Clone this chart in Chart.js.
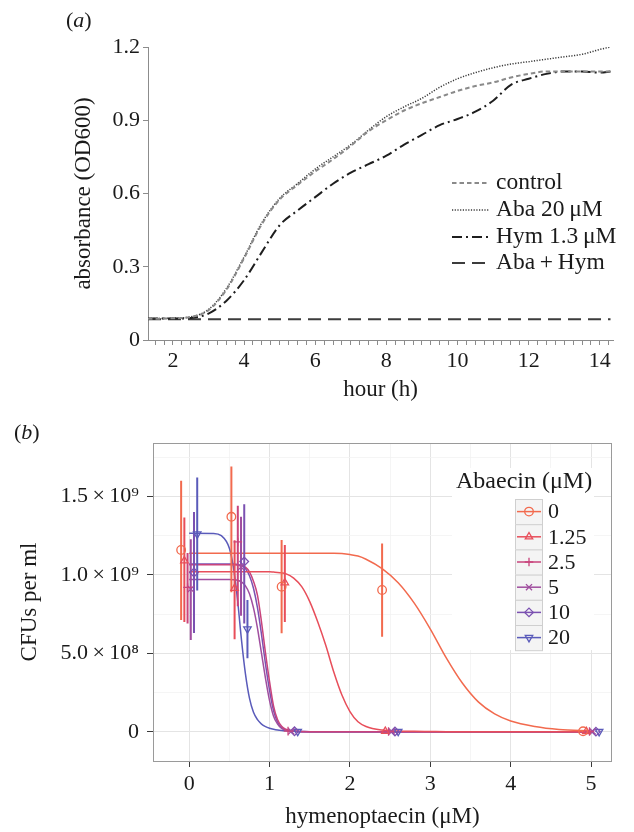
<!DOCTYPE html>
<html><head><meta charset="utf-8">
<script src="https://cdn.jsdelivr.net/npm/chart.js@4.4.0/dist/chart.umd.min.js"></script>
<style>
html,body{margin:0;padding:0;background:#fff;}
#wrap{position:relative;width:634px;height:832px;font-family:"Liberation Serif","Times New Roman",serif;color:#1a1a1a;}
.lab{position:absolute;font-size:22px;line-height:26px;}
.box{position:absolute;left:0;width:634px;}
</style></head><body>
<div id="wrap">
<div class="box" style="top:0;height:410px"><canvas id="ca"></canvas></div>
<div class="box" style="top:410px;height:422px"><canvas id="cb"></canvas></div>
<div class="lab" style="left:66px;top:7px">(<i>a</i>)</div>
<div class="lab" style="left:14px;top:419px">(<i>b</i>)</div>
</div>
<script>
// ---------- panel (a) data ----------
const hours = [1.3,1.5,2,2.5,3,3.5,4,4.5,5,5.5,6,6.5,7,7.5,8,8.5,9,9.5,10,10.5,11,11.5,12,12.5,13,13.5,14,14.3];
const odControl = [0.087,0.087,0.089,0.094,0.122,0.205,0.335,0.475,0.575,0.635,0.69,0.74,0.795,0.855,0.90,0.94,0.97,0.995,1.02,1.04,1.055,1.075,1.09,1.10,1.10,1.10,1.10,1.10];
const odAba = [0.088,0.088,0.09,0.095,0.125,0.21,0.34,0.48,0.58,0.64,0.70,0.75,0.80,0.86,0.915,0.955,0.99,1.035,1.07,1.095,1.115,1.13,1.14,1.15,1.16,1.17,1.19,1.20];
const odHym = [0.088,0.088,0.088,0.09,0.108,0.16,0.245,0.36,0.47,0.53,0.585,0.64,0.685,0.72,0.755,0.80,0.84,0.88,0.905,0.935,0.98,1.045,1.07,1.09,1.10,1.10,1.095,1.10];
const odAbaHym = [0.085,0.085,0.085,0.085,0.085,0.085,0.085,0.085,0.085,0.085,0.085,0.085,0.085,0.085,0.085,0.085,0.085,0.085,0.085,0.085,0.085,0.085,0.085,0.085,0.085,0.085,0.085,0.085];
const growthLabels = ['control','Aba 20\u2009\u03bcM','Hym 1.3\u2009\u03bcM','Aba\u2009+\u2009Hym'];
const hourTicks = [2,4,6,8,10,12,14];
const odTicks = [0,0.3,0.6,0.9,1.2];
const odTickLabels = ['0','0.3','0.6','0.9','1.2'];

// ---------- panel (b) data ----------
const abaecinLevels = ['0','1.25','2.5','5','10','20'];
const hymConc = [0,0.625,1.25,2.5,5];
const cfuMean = [
  [1.159e9,1.37e9,0.925e9,0.904e9,0.004e9],
  [1.09e9,0.915e9,0.95e9,0.004e9,0.003e9],
  [0.92e9,1.21e9,0.005e9,0.003e9,0.003e9],
  [0.91e9,1.05e9,0.004e9,0.003e9,0.003e9],
  [1.015e9,1.085e9,0.004e9,0.003e9,0.002e9],
  [1.26e9,0.656e9,0.003e9,0.003e9,0.002e9]
];
const cfuLow = [
  [0.713e9,0.89e9,0.629e9,0.607e9,0.0e9],
  [0.70e9,0.59e9,0.70e9,0.0e9,0.0e9],
  [0.69e9,0.80e9,0.0e9,0.0e9,0.0e9],
  [0.586e9,0.74e9,0.0e9,0.0e9,0.0e9],
  [0.63e9,0.69e9,0.0e9,0.0e9,0.0e9],
  [0.90e9,0.47e9,0.0e9,0.0e9,0.0e9]
];
const cfuHigh = [
  [1.60e9,1.69e9,1.223e9,1.20e9,0.008e9],
  [1.365e9,1.22e9,1.19e9,0.008e9,0.006e9],
  [1.14e9,1.44e9,0.01e9,0.006e9,0.006e9],
  [1.227e9,1.37e9,0.008e9,0.006e9,0.006e9],
  [1.40e9,1.45e9,0.008e9,0.006e9,0.004e9],
  [1.62e9,0.84e9,0.006e9,0.006e9,0.004e9]
];
const curveX = [0,0.3,0.4,0.5,0.55,0.6,0.65,0.7,0.75,0.8,0.85,0.9,0.95,1.0,1.05,1.1,1.15,1.2,1.3,1.4,1.5,1.6,1.7,1.8,1.9,2.0,2.1,2.2,2.4,2.6,2.8,3.0,3.2,3.4,3.6,3.8,4.0,4.3,4.6,5.0];
const fit0 = [1.138,1.138,1.138,1.138,1.138,1.138,1.138,1.138,1.138,1.138,1.138,1.138,1.138,1.138,1.138,1.138,1.138,1.138,1.138,1.138,1.138,1.138,1.138,1.138,1.136,1.13,1.12,1.10,1.04,0.95,0.82,0.655,0.47,0.31,0.19,0.115,0.07,0.035,0.016,0.006];
const fit125 = [1.02,1.02,1.02,1.02,1.02,1.02,1.02,1.02,1.02,1.02,1.02,1.02,1.02,1.02,1.018,1.016,1.013,1.008,0.98,0.925,0.83,0.70,0.55,0.38,0.235,0.13,0.065,0.035,0.012,0.006,0.004,0.003,0.002,0.002,0.002,0.002,0.002,0.002,0.002,0.002];
const fit25 = [1.064,1.064,1.064,1.064,1.064,1.063,1.06,1.05,1.02,0.96,0.87,0.70,0.50,0.32,0.165,0.078,0.036,0.017,0.006,0.003,0.002,0.002,0.002,0.002,0.002,0.002,0.002,0.002,0.002,0.002,0.002,0.002,0.002,0.002,0.002,0.002,0.002,0.002,0.002,0.002];
const fit5 = [0.97,0.97,0.97,0.97,0.969,0.966,0.955,0.93,0.88,0.79,0.66,0.50,0.34,0.20,0.10,0.05,0.022,0.011,0.004,0.002,0.002,0.002,0.002,0.002,0.002,0.002,0.002,0.002,0.002,0.002,0.002,0.002,0.002,0.002,0.002,0.002,0.002,0.002,0.002,0.002];
const fit10 = [1.07,1.07,1.07,1.07,1.069,1.066,1.058,1.04,0.995,0.915,0.79,0.62,0.43,0.265,0.135,0.062,0.028,0.013,0.004,0.002,0.002,0.002,0.002,0.002,0.002,0.002,0.002,0.002,0.002,0.002,0.002,0.002,0.002,0.002,0.002,0.002,0.002,0.002,0.002,0.002];
const fit20 = [1.265,1.264,1.25,1.17,1.05,0.85,0.59,0.37,0.215,0.125,0.078,0.05,0.034,0.024,0.017,0.012,0.009,0.007,0.004,0.003,0.002,0.002,0.002,0.002,0.002,0.002,0.002,0.002,0.002,0.002,0.002,0.002,0.002,0.002,0.002,0.002,0.002,0.002,0.002,0.002];
const fitCurves = [fit0,fit125,fit25,fit5,fit10,fit20]; // in units of 1e9 CFU/ml
const hymTicks = [0,1,2,3,4,5];
const cfuTicks = [0,5e8,1e9,1.5e9];
const cfuTickLabels = ['0','5.0\u2009\u00d7\u200910\u2078','1.0\u2009\u00d7\u200910\u2079','1.5\u2009\u00d7\u200910\u2079'];

// ---------- styles ----------
const FONT = "'Liberation Serif','Times New Roman',serif";
const TXT = '#1a1a1a';
const seriesColors = ['#F26A4E','#E84E5A','#C9447C','#A04E9F','#7B51B1','#5A5BBA'];
const seriesShapes = ['circle','triangle','cross','crossRot','rectRot','triangle'];
const seriesRot = [0,0,0,0,0,180];
const dodge = [-0.1,-0.06,-0.02,0.02,0.06,0.1];

// ---------- panel (a) ----------
const growthStyles = [
  {borderColor:'#8a8a8a', borderWidth:2, borderDash:[4.5,3]},
  {borderColor:'#3a3a3a', borderWidth:1.5, borderDash:[1.2,1.5]},
  {borderColor:'#1e1e1e', borderWidth:2, borderDash:[10,4,2,4]},
  {borderColor:'#3c3c3c', borderWidth:1.8, borderDash:[13,7]}
];
const growthSeries = [odControl, odAba, odHym, odAbaHym];

const legendA = {
  id:'legendA',
  afterDatasetsDraw(chart){
    const ctx = chart.ctx;
    ctx.save();
    const rows = [183,210,237,263];
    chart.data.datasets.forEach((ds,i)=>{
      ctx.strokeStyle = ds.borderColor; ctx.lineWidth = ds.borderWidth;
      ctx.setLineDash(ds.borderDash);
      ctx.beginPath(); ctx.moveTo(452, rows[i]); ctx.lineTo(489, rows[i]); ctx.stroke();
      ctx.setLineDash([]);
      ctx.fillStyle = TXT; ctx.font = "23.5px " + FONT; ctx.textBaseline = 'middle'; ctx.textAlign='left';
      ctx.fillText(ds.label, 496, rows[i]);
    });
    ctx.restore();
  }
};

new Chart(document.getElementById('ca'), {
  type:'line',
  data:{datasets: growthSeries.map((arr,i)=>Object.assign({
    label: growthLabels[i],
    data: hours.map((h,k)=>({x:h, y:arr[k]})),
    pointRadius:0, fill:false, cubicInterpolationMode:'monotone'
  }, growthStyles[i]))},
  options:{
    responsive:true, maintainAspectRatio:false, animation:false,
    layout:{padding:{left:66,right:21,top:47,bottom:4}},
    plugins:{legend:{display:false}, tooltip:{enabled:false}},
    scales:{
      x:{type:'linear', min:1.3, max:14.37,
        afterBuildTicks:s=>{const t=[]; for(let v=1.5; v<14.3; v+=0.25) t.push({value:Math.round(v*100)/100}); s.ticks=t;},
        afterFit:s=>{s.height=66;},
        grid:{drawOnChartArea:false, drawTicks:true, tickLength:5, color:'#8c8c8c'},
        border:{color:'#8c8c8c', width:1},
        ticks:{autoSkip:false, maxRotation:0, padding:3, color:TXT, font:{family:FONT,size:22},
          callback:v=> hourTicks.includes(v) ? String(v) : ''},
        title:{display:true, text:'hour (h)', color:TXT, font:{family:FONT,size:23}, padding:{top:0,bottom:2}}
      },
      y:{type:'linear', min:0, max:1.2,
        afterBuildTicks:s=>{s.ticks = odTicks.map(v=>({value:v}));},
        afterFit:s=>{s.width=82;},
        grid:{drawOnChartArea:false, drawTicks:true, tickLength:5, color:'#8c8c8c'},
        border:{color:'#8c8c8c', width:1},
        ticks:{autoSkip:false, padding:3, color:TXT, font:{family:FONT,size:22},
          callback:(v)=>{const k=odTicks.indexOf(v); return k>=0?odTickLabels[k]:'';}},
        title:{display:true, text:'absorbance (OD600)', color:TXT, font:{family:FONT,size:23}, padding:{top:4,bottom:0}}
      }
    }
  },
  plugins:[legendA]
});

// ---------- panel (b) ----------
function drawMarker(ctx, style, rot, r, x, y, color, bw){
  if (Chart.helpers && Chart.helpers.drawPoint){
    ctx.strokeStyle=color; ctx.fillStyle='rgba(0,0,0,0)'; ctx.lineWidth=bw;
    Chart.helpers.drawPoint(ctx, {pointStyle:style, rotation:rot, radius:r, borderWidth:bw}, x, y);
  }
}
const panelBorder = {
  id:'panelBorder',
  afterDraw(chart){
    const a=chart.chartArea, ctx=chart.ctx;
    ctx.save(); ctx.strokeStyle='#9a9a9a'; ctx.lineWidth=1;
    ctx.strokeRect(Math.round(a.left)+0.5, Math.round(a.top)+0.5, Math.round(a.right-a.left)-1, Math.round(a.bottom-a.top));
    ctx.restore();
  }
};
const legendB = {
  id:'legendB',
  afterDatasetsDraw(chart){
    const ctx=chart.ctx; ctx.save();
    ctx.fillStyle='#ffffff'; ctx.fillRect(452,58,142,182);
    ctx.fillStyle=TXT; ctx.font="24px "+FONT; ctx.textBaseline='middle'; ctx.textAlign='left';
    ctx.fillText('Abaecin (\u03bcM)', 456, 72);
    const bx=515, bw=27, bh=25.2, top=89;
    abaecinLevels.forEach((lv,i)=>{
      const y0 = top + i*bh, cy = y0 + bh/2;
      ctx.fillStyle='#f4f4f4'; ctx.fillRect(bx, y0, bw, bh);
      ctx.strokeStyle='#cfcfcf'; ctx.lineWidth=1; ctx.strokeRect(bx+0.5, y0+0.5, bw, bh);
      ctx.strokeStyle=seriesColors[i]; ctx.lineWidth=1.5;
      ctx.beginPath(); ctx.moveTo(bx+2, cy); ctx.lineTo(bx+bw-1, cy); ctx.stroke();
      drawMarker(ctx, seriesShapes[i], seriesRot[i], 4.3, bx+bw/2+0.5, cy, seriesColors[i], 1.3);
      ctx.fillStyle=TXT; ctx.font="22px "+FONT;
      ctx.fillText(lv, 548, cy+1);
    });
    ctx.restore();
  }
};

const dsB = [];
fitCurves.forEach((arr,i)=>{
  dsB.push({type:'line', label:abaecinLevels[i]+' fit', data:curveX.map((x,k)=>({x, y:arr[k]*1e9})),
    borderColor:seriesColors[i], borderWidth:1.5, pointRadius:0, cubicInterpolationMode:'monotone', order:3});
});
cfuMean.forEach((arr,i)=>{
  dsB.push({type:'line', label:abaecinLevels[i]+' sd', spanGaps:false,
    data: hymConc.flatMap((c,j)=>[{x:c+dodge[i], y:cfuLow[i][j]},{x:c+dodge[i], y:cfuHigh[i][j]},{x:c+dodge[i], y:null}]),
    borderColor:seriesColors[i], borderWidth:2, pointRadius:0, order:2});
});
cfuMean.forEach((arr,i)=>{
  dsB.push({type:'line', label:abaecinLevels[i], showLine:false,
    data: hymConc.map((c,j)=>({x:c+dodge[i], y:arr[j]})),
    pointStyle:seriesShapes[i], pointRotation:seriesRot[i], pointRadius:4.3,
    pointBorderColor:seriesColors[i], pointBackgroundColor:'rgba(0,0,0,0)', pointBorderWidth:1.3,
    borderColor:seriesColors[i], order:1});
});

new Chart(document.getElementById('cb'), {
  type:'line',
  data:{datasets:dsB},
  options:{
    responsive:true, maintainAspectRatio:false, animation:false,
    layout:{padding:{left:12,right:22,top:33,bottom:0}},
    plugins:{legend:{display:false}, tooltip:{enabled:false}},
    scales:{
      x:{type:'linear', min:-0.45, max:5.26,
        afterBuildTicks:s=>{const t=[]; hymTicks.forEach(v=>{t.push({value:v}); if(v<5) t.push({value:v+0.5});}); s.ticks=t;},
        afterFit:s=>{s.height=71;},
        grid:{drawOnChartArea:true, drawTicks:true, tickLength:6,
          color:c=> hymTicks.includes(c.tick.value) ? '#e4e4e4' : '#f2f2f2',
          lineWidth:c=> hymTicks.includes(c.tick.value) ? 1 : 0.8,
          tickColor:c=> hymTicks.includes(c.tick.value) ? '#3a3a3a' : 'rgba(0,0,0,0)'},
        border:{display:false},
        ticks:{autoSkip:false, maxRotation:0, padding:4, color:TXT, font:{family:FONT,size:22},
          callback:v=> hymTicks.includes(v) ? String(v) : ''},
        title:{display:true, text:'hymenoptaecin (\u03bcM)', color:TXT, font:{family:FONT,size:23}, padding:{top:0,bottom:1}}
      },
      y:{type:'linear', min:-1.85e8, max:1.84e9,
        afterBuildTicks:s=>{const t=[]; cfuTicks.forEach(v=>{t.push({value:v}); t.push({value:v+2.5e8});}); s.ticks=t;},
        afterFit:s=>{s.width=141;},
        grid:{drawOnChartArea:true, drawTicks:true, tickLength:6,
          color:c=> cfuTicks.includes(c.tick.value) ? '#e4e4e4' : '#f2f2f2',
          lineWidth:c=> cfuTicks.includes(c.tick.value) ? 1 : 0.8,
          tickColor:c=> cfuTicks.includes(c.tick.value) ? '#3a3a3a' : 'rgba(0,0,0,0)'},
        border:{display:false},
        ticks:{autoSkip:false, padding:8, color:TXT, font:{family:FONT,size:22},
          callback:v=>{const k=cfuTicks.indexOf(v); return k>=0?cfuTickLabels[k]:'';}},
        title:{display:true, text:'CFUs per ml', color:TXT, font:{family:FONT,size:23}, padding:{top:4,bottom:0}}
      }
    }
  },
  plugins:[panelBorder, legendB]
});
</script>
</body></html>
